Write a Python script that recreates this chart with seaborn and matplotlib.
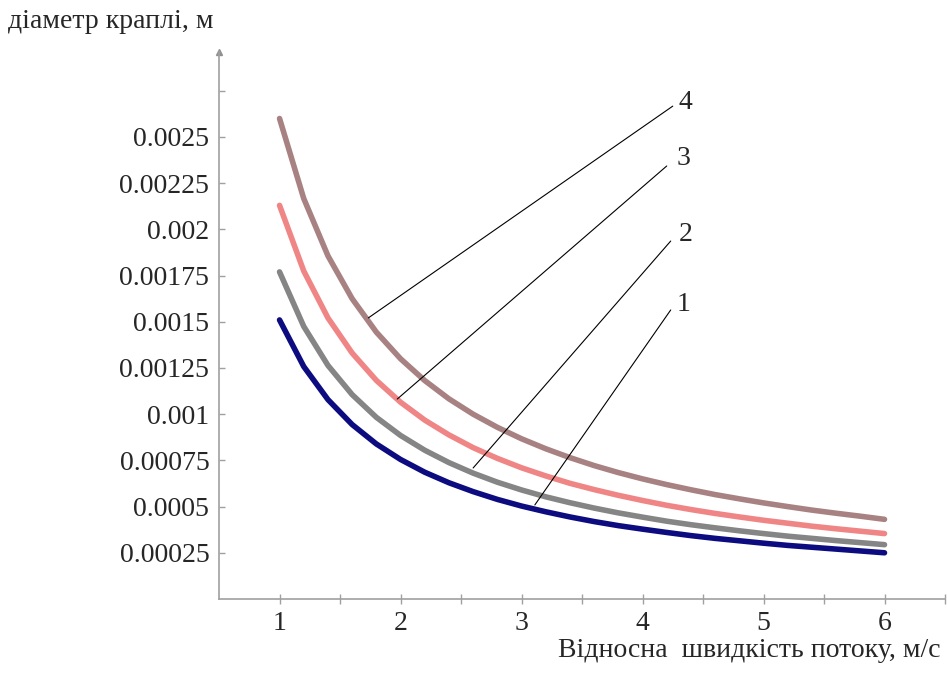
import pandas as pd
import matplotlib
matplotlib.use("Agg")
import matplotlib.pyplot as plt
import seaborn as sns

# values (droplet diameter in mm, converted to m below)
speed = [1, 1.2, 1.4, 1.6, 1.8, 2, 2.2, 2.4, 2.6, 2.8, 3, 3.2, 3.4, 3.6, 3.8,
         4, 4.2, 4.4, 4.6, 4.8, 5, 5.2, 5.4, 5.6, 5.8, 6]
curve_1 = [1.510, 1.258, 1.079, 0.944, 0.839, 0.755, 0.686, 0.629, 0.581, 0.539,
           0.503, 0.472, 0.444, 0.419, 0.397, 0.378, 0.360, 0.343, 0.328, 0.315,
           0.302, 0.290, 0.280, 0.270, 0.260, 0.250]
curve_2 = [1.770, 1.475, 1.264, 1.106, 0.983, 0.885, 0.805, 0.738, 0.681, 0.632,
           0.590, 0.553, 0.521, 0.492, 0.466, 0.443, 0.421, 0.402, 0.385, 0.369,
           0.354, 0.340, 0.328, 0.316, 0.305, 0.294]
curve_3 = [2.130, 1.775, 1.521, 1.331, 1.183, 1.065, 0.968, 0.888, 0.819, 0.761,
           0.710, 0.666, 0.626, 0.592, 0.561, 0.533, 0.507, 0.484, 0.463, 0.444,
           0.426, 0.410, 0.394, 0.380, 0.367, 0.354]
curve_4 = [2.600, 2.167, 1.857, 1.625, 1.444, 1.300, 1.182, 1.083, 1.000, 0.929,
           0.867, 0.813, 0.765, 0.722, 0.684, 0.650, 0.619, 0.591, 0.565, 0.542,
           0.520, 0.500, 0.481, 0.464, 0.448, 0.431]
curve_names = ["1", "2", "3", "4"]

y_ticks = [0.00025, 0.0005, 0.00075, 0.001, 0.00125, 0.0015, 0.00175, 0.002,
           0.00225, 0.0025, 0.00275]
y_tick_labels = ["0.00025", "0.0005", "0.00075", "0.001", "0.00125", "0.0015",
                 "0.00175", "0.002", "0.00225", "0.0025", ""]
x_ticks = [1, 2, 3, 4, 5, 6]

# build long table for seaborn
frames = []
for name, vals in zip(curve_names, [curve_1, curve_2, curve_3, curve_4]):
    frames.append(pd.DataFrame({"v": speed, "d": [x * 1e-3 for x in vals], "curve": name}))
df = pd.concat(frames, ignore_index=True)

sns.set_style("white")
plt.rcParams['font.family'] = ['Liberation Serif', 'DejaVu Serif']

fig = plt.figure(figsize=(9.47, 6.75), dpi=100)
ax = fig.add_axes([0.2313, 0.1126, 0.7666, 0.8104])

palette = {"1": "#0c0c80", "2": "#858585", "3": "#f08585", "4": "#a88282"}
sns.lineplot(data=df, x="v", y="d", hue="curve", palette=palette, linewidth=4,
             legend=False, ax=ax)

ax.set_xlim(0.5, 6.485)
ax.set_ylim(0, 0.00296)

# axis look
axis_col = "#a0a0a0"
for side in ["top", "right"]:
    ax.spines[side].set_visible(False)
for side in ["left", "bottom"]:
    ax.spines[side].set_color(axis_col)
    ax.spines[side].set_linewidth(1.2)

ax.set_yticks(y_ticks)
ax.set_yticklabels(y_tick_labels)
ax.set_xticks(x_ticks)
ax.set_xticks([1.5, 2.5, 3.5, 4.5, 5.5, 6.5], minor=True)
ax.tick_params(axis="y", direction="in", length=4, width=1, color=axis_col,
               labelsize=20, pad=7, left=True)
ax.tick_params(axis="x", which="both", direction="inout", length=7, width=1,
               color=axis_col, labelsize=20, pad=5, bottom=True)
ax.set_xlabel("")
ax.set_ylabel("")

# arrow at the top of the y axis
ax.plot(0, 1, marker="^", color="#909090", markersize=5, transform=ax.transAxes,
        clip_on=False)

# leader lines with curve numbers
leaders = {
    "4": ((1.734, 0.001521), (4.25, 0.002667), (4.355, 0.002689)),
    "3": ((1.973, 0.001082), (4.20, 0.002343), (4.34, 0.002386)),
    "2": ((2.60, 0.000709), (4.233, 0.001937), (4.355, 0.001970)),
    "1": ((3.11, 0.000509), (4.233, 0.001564), (4.34, 0.001596)),
}
for name, (start, end, lab) in leaders.items():
    ax.plot([start[0], end[0]], [start[1], end[1]], color="black", linewidth=0.8)
    ax.text(lab[0], lab[1], name, fontsize=20, ha="center", va="center")

fig.text(0.008, 0.968, "діаметр краплі, м", fontsize=20, ha="left", va="center")
fig.text(0.993, 0.037, "Відносна  швидкість потоку, м/с", fontsize=20,
         ha="right", va="center")

fig.savefig("out.png", dpi=100)
